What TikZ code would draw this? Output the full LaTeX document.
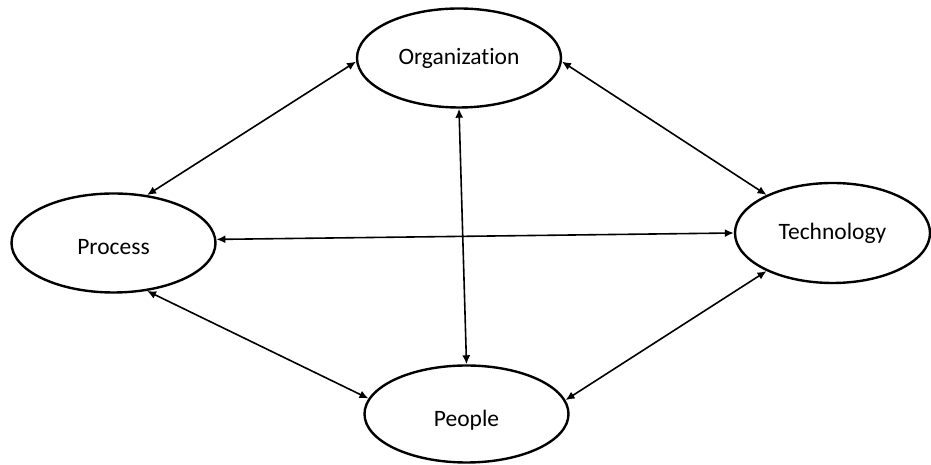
\documentclass[tikz,border=0pt]{standalone}
\usepackage{fontspec}
\setmainfont[Ligatures=CommonOff]{Carlito}
\usetikzlibrary{shapes.geometric, arrows.meta}

\begin{document}
\begin{tikzpicture}[x=1pt, y=1pt,
    part/.style={draw, ellipse, line width=2.4, inner sep=0, minimum width=204, minimum height=99, font=\fontsize{23.5}{28}\selectfont},
    link/.style={line width=1.6, {Latex[length=9,width=8]}-{Latex[length=9,width=8]}}]
    \useasboundingbox (0, 0) rectangle (931, 465);

    \node[part] (org) at (459, 407) {Organization};
    \node[part, text height=24] (proc) at (113.5, 222) {Process};
    \node[part, minimum width=195, minimum height=100] (tech) at (832.5, 232) {Technology};
    \node[part, minimum height=97, text height=29] (people) at (466.5, 51) {People};

    \draw[link] (org.182) -- (proc.55);
    \draw[link] (org.-2) -- (tech.150);
    \draw[link] (proc.2) -- (tech.west);
    \draw[link] (org.south) -- (people.north);
    \draw[link] (proc.-55) -- (people.171);
    \draw[link] (tech.210) -- (people.8);
\end{tikzpicture}
\end{document}
